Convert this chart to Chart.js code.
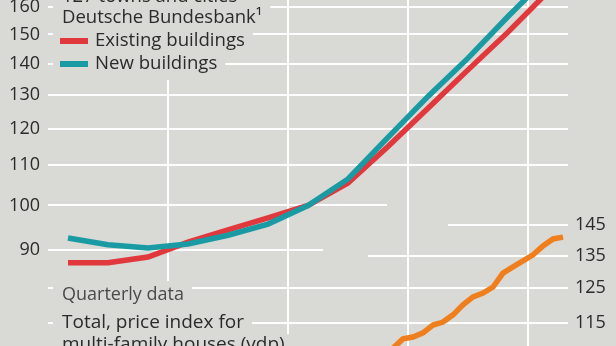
<!DOCTYPE html>
<html>
<head>
<meta charset="utf-8">
<script src="https://cdn.jsdelivr.net/npm/chart.js@4"></script>
<style>
  html, body { margin: 0; padding: 0; background: #d9d9d5; overflow: hidden; }
</style>
</head>
<body>
<canvas id="chart" width="616" height="346"></canvas>
<script>
// Bundesbank index, 127 towns and cities (annual, log scale, left axis)
const annualYears = [2004, 2005, 2006, 2007, 2008, 2009, 2010, 2011, 2012, 2013, 2014, 2015, 2016];
const existingBuildings = [87.3, 87.3, 88.5, 91.7, 94.4, 97.1, 100, 105.5, 115.0, 125.9, 137.9, 150.8, 165.9];
const newBuildings = [92.6, 91.1, 90.4, 91.3, 93.2, 95.7, 100, 106.5, 117.5, 129.5, 141.8, 156.5, 172.0];

// vdp price index for multi-family houses (quarterly, log scale, right axis)
const vdpQuarters = ['2012Q1', '2012Q2', '2012Q3', '2012Q4', '2013Q1', '2013Q2', '2013Q3', '2013Q4',
  '2014Q1', '2014Q2', '2014Q3', '2014Q4', '2015Q1', '2015Q2', '2015Q3', '2015Q4',
  '2016Q1', '2016Q2', '2016Q3', '2016Q4'];
const vdpMultiFamily = [106.5, 107.4, 108.4, 110.8, 111.3, 112.4, 114.5, 115.3,
  117.3, 120.1, 122.4, 123.5, 125.3, 129.5, 131.4, 133.3,
  135.2, 138.1, 140.4, 141.0];

const leftTicks = [90, 100, 110, 120, 130, 140, 150, 160];
const rightTicks = [115, 125, 135, 145];
const yearLines = [2007, 2010, 2013, 2016];

const BG = '#d9d9d5';
const FONT = '"Open Sans", "Noto Sans", sans-serif';
const TEXT = '#2b2b2b';

// where the white grid lines run (pixels), where they are shorter than the plot
const leftGridSpan = { 100: [48, 387], 90: [48, 323] };
const rightGridSpan = { 145: [448, 568], 135: [368, 568] };

function quarterToX(q) {
  const yr = parseInt(q.slice(0, 4), 10);
  const n = parseInt(q.slice(5), 10);
  return yr + (n - 0.5) / 4;
}

function hLine(ctx, x0, x1, y) {
  ctx.beginPath();
  ctx.moveTo(x0, y);
  ctx.lineTo(x1, y);
  ctx.stroke();
}

const gridAndNotes = {
  id: 'gridAndNotes',
  beforeDatasetsDraw(chart) {
    const { ctx, chartArea, scales } = chart;
    ctx.save();
    ctx.strokeStyle = '#ffffff';
    ctx.lineWidth = 2;
    yearLines.forEach(yr => {
      const x = Math.round(scales.x.getPixelForValue(yr));
      ctx.beginPath();
      ctx.moveTo(x, 0);
      ctx.lineTo(x, chart.height);
      ctx.stroke();
    });
    leftTicks.forEach(v => {
      const y = Math.round(scales.yLeft.getPixelForValue(v));
      const span = leftGridSpan[v] || [chartArea.left, chartArea.right];
      hLine(ctx, span[0], span[1], y);
    });
    rightTicks.forEach(v => {
      const y = Math.round(scales.yRight.getPixelForValue(v));
      const span = rightGridSpan[v] || [chartArea.left, chartArea.right];
      hLine(ctx, span[0], span[1], y);
    });

    // text lines with a background box that hides the grid behind them
    ctx.textBaseline = 'alphabetic';
    ctx.textAlign = 'left';
    function note(text, x, base, color, boxTop, boxBottom, size) {
      ctx.font = (size || 19) + 'px ' + FONT;
      const w = ctx.measureText(text).width;
      ctx.fillStyle = BG;
      ctx.fillRect(53, boxTop, x + w + 8 - 53, boxBottom - boxTop);
      ctx.fillStyle = color;
      ctx.fillText(text, x, base);
    }
    note('127 towns and cities', 62, 1.5, TEXT, -20, 5, 18.5);
    note('Deutsche Bundesbank\u00b9', 62, 22.5, TEXT, 5, 29, 18.5);

    // legend for the two Bundesbank series
    const items = [chart.data.datasets[1], chart.data.datasets[0]];
    items.forEach((ds, i) => {
      const base = 46 + i * 23;
      note(ds.label, 95, base, TEXT, 29 + i * 23, i === 1 ? 80 : 52, 18.6);
      ctx.fillStyle = ds.borderColor;
      ctx.fillRect(60, base - 8, 28, 6);
    });

    note('Quarterly data', 62, 300, '#4a4a4a', 281, 306, 18);
    note('Total, price index for', 62, 328, TEXT, 306, 334);
    note('multi-family houses (vdp)', 62, 350, TEXT, 334, 360);
    ctx.restore();
  }
};

const axisTicks = (padding) => ({
  autoSkip: false, padding: padding, color: TEXT,
  font: { family: FONT, size: 18 }, callback: v => v
});

const ctx = document.getElementById('chart').getContext('2d');
const chart = new Chart(ctx, {
  type: 'line',
  data: {
    datasets: [
      {
        label: 'New buildings',
        data: annualYears.map((yr, i) => ({ x: yr + 0.5, y: newBuildings[i] })),
        yAxisID: 'yLeft',
        borderColor: '#1a9ba4',
        borderWidth: 5.5,
        pointRadius: 0,
        order: 1
      },
      {
        label: 'Existing buildings',
        data: annualYears.map((yr, i) => ({ x: yr + 0.5, y: existingBuildings[i] })),
        yAxisID: 'yLeft',
        borderColor: '#e0383d',
        borderWidth: 5.5,
        pointRadius: 0,
        order: 2
      },
      {
        label: 'Total, price index for multi-family houses (vdp)',
        data: vdpQuarters.map((q, i) => ({ x: quarterToX(q), y: vdpMultiFamily[i] })),
        yAxisID: 'yRight',
        borderColor: '#ef7f1c',
        borderWidth: 5.5,
        pointRadius: 0,
        order: 3
      }
    ]
  },
  options: {
    responsive: false,
    animation: false,
    layout: { padding: 0, autoPadding: false },
    plugins: { legend: { display: false }, tooltip: { enabled: false } },
    scales: {
      x: { type: 'linear', min: 2004, max: 2017, display: false },
      yLeft: {
        type: 'logarithmic',
        position: 'left',
        min: 71.68,
        max: 162.74,
        bounds: 'data',
        grid: { display: false, drawTicks: false },
        border: { display: false },
        ticks: axisTicks(8),
        afterBuildTicks: s => { s.ticks = leftTicks.map(v => ({ value: v })); },
        afterFit: s => { s.width = 48; s.paddingTop = 0; s.paddingBottom = 0; }
      },
      yRight: {
        type: 'logarithmic',
        position: 'right',
        min: 108.95,
        max: 247.3,
        bounds: 'data',
        grid: { display: false, drawTicks: false },
        border: { display: false },
        ticks: axisTicks(7),
        afterBuildTicks: s => { s.ticks = rightTicks.map(v => ({ value: v })); },
        afterFit: s => { s.width = 48; s.paddingTop = 0; s.paddingBottom = 0; }
      }
    }
  },
  plugins: [gridAndNotes]
});
</script>
</body>
</html>
